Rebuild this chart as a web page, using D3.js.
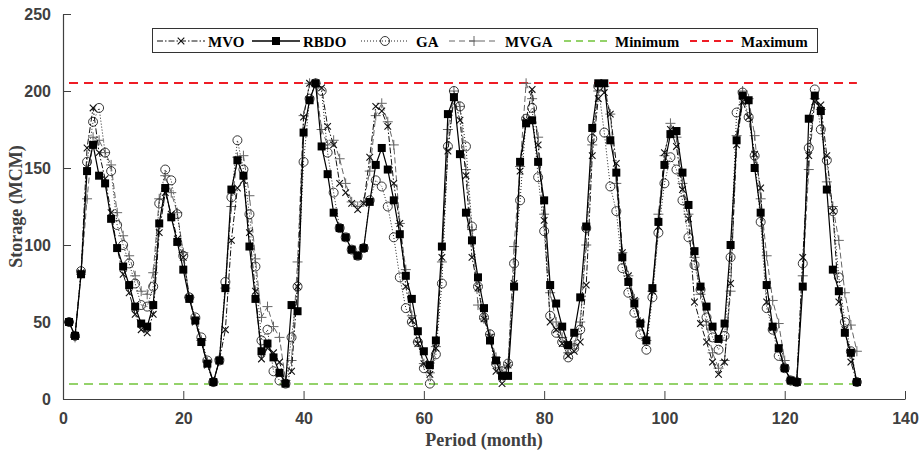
<!DOCTYPE html>
<html>
<head>
<meta charset="utf-8">
<script src="https://cdn.jsdelivr.net/npm/d3@7"></script>
<style>
  body { margin: 0; background: #fff; }
  svg { font-family: "Liberation Serif", "Times New Roman", serif; }
</style>
</head>
<body>
<div id="chart"></div>
<script>
// monthly storage (MCM), months 1..132
var mvo = [50,41,82,163,189,160,143,121,98,81,69,55,45,43,55,108,134,120,104,92,66,50,37,22,11,25,45,103,137,142,
  108,70,26,33,30,24,10,18,73,183,205,205,202,177,165,140,134,127,123,127,157,190,187,177,140,114,73,51,36,23,
  16,33,92,161,196,181,145,92,72,52,40,18,10,22,75,148,181,201,165,116,50,45,36,28,31,37,74,158,195,199,
  185,153,95,80,64,50,38,70,112,160,175,164,136,117,63,49,37,24,16,24,75,165,193,183,159,137,63,46,33,20,
  12,11,92,158,193,191,158,122,63,45,24,11];
var rbdo = [50,41,81,148,165,145,140,117,98,86,74,60,49,47,61,114,137,118,102,84,65,51,37,23,11,25,72,136,155,145,
  99,65,31,36,27,17,10,61,57,173,194,205,164,146,121,111,105,97,93,98,128,152,163,149,129,107,80,65,44,31,
  22,38,99,185,196,159,121,103,79,59,38,25,15,15,73,154,179,181,154,129,74,62,47,35,43,66,112,176,205,205,
  168,147,92,76,62,49,38,72,115,152,172,174,147,126,96,73,60,47,39,49,100,168,197,194,150,121,74,47,33,20,
  12,11,73,182,197,187,136,84,70,43,30,11];
var ga = [50,41,83,154,180,189,160,148,113,100,88,75,61,60,73,127,149,142,120,93,66,53,40,25,11,25,76,131,168,149,
  120,86,38,45,18,12,10,40,73,154,195,205,200,160,134,111,105,97,93,98,129,142,138,125,105,79,59,50,37,20,
  10,29,75,164,200,190,164,112,73,53,42,23,18,23,88,129,182,189,144,109,54,43,37,27,33,45,111,169,203,173,
  138,122,85,69,56,42,32,66,108,140,157,149,129,105,87,71,53,40,32,41,92,186,199,183,158,115,59,45,28,20,
  12,11,88,163,201,175,155,122,79,50,31,11];
var mvga = [50,40,81,130,170,168,160,152,121,106,93,80,70,68,82,130,145,134,121,95,66,52,38,24,11,26,72,125,157,158,
  132,91,53,60,47,40,12,25,89,184,205,205,175,165,168,156,140,128,125,128,148,184,192,180,165,114,84,54,37,23,
  17,34,89,175,200,190,149,110,61,52,42,27,18,22,99,151,205,195,170,120,69,50,40,30,35,50,100,165,200,203,
  185,140,95,80,65,50,38,70,120,158,179,170,140,120,92,68,48,30,20,25,70,171,200,195,171,130,93,64,49,25,
  12,13,80,149,195,188,141,125,103,69,48,31];
var minStorage = 10, maxStorage = 205;
var xTicks = [0,20,40,60,80,100,120,140];
var yTicks = [0,50,100,150,200,250];

var W = 921, H = 452;
var margin = {top:14, left:63, right:16, bottom:53};
var width = W - margin.left - margin.right;
var height = H - margin.top - margin.bottom;
var axisColor = '#404040';

var svg = d3.select('#chart').append('svg')
    .attr('width', W).attr('height', H);
var g = svg.append('g')
    .attr('transform', 'translate(' + margin.left + ',' + margin.top + ')');

var x = d3.scaleLinear().domain([0, 140]).range([0, width]);
var y = d3.scaleLinear().domain([0, 250]).range([height, 0]);

// axes (matlab style, inward ticks, no box)
var xAxis = g.append('g').attr('transform', 'translate(0,' + height + ')')
    .call(d3.axisBottom(x).tickValues(xTicks).tickSize(-8).tickPadding(14).tickSizeOuter(0));
var yAxis = g.append('g')
    .call(d3.axisLeft(y).tickValues(yTicks).tickSize(-8).tickPadding(12).tickSizeOuter(0));
[xAxis, yAxis].forEach(function(a) {
    a.select('.domain').attr('stroke', axisColor).attr('stroke-width', 1.2);
    a.selectAll('.tick line').attr('stroke', axisColor).attr('stroke-width', 1);
    a.selectAll('.tick text').attr('fill', axisColor).style('font-size', '16px').style('font-weight', 'bold');
});

// axis titles
svg.append('text').attr('x', margin.left + x(70)).attr('y', 446)
    .attr('text-anchor', 'middle').attr('fill', axisColor)
    .style('font-size', '18px').style('font-weight', 'bold').text('Period (month)');
svg.append('text').attr('transform', 'translate(22,' + (margin.top + y(125)) + ') rotate(-90)')
    .attr('text-anchor', 'middle').attr('fill', axisColor)
    .style('font-size', '18px').style('font-weight', 'bold').text('Storage (MCM)');

var months = d3.range(1, 133);

// limits (2px so the red keeps its colour)
g.append('line').attr('x1', x(1)).attr('x2', x(132))
    .attr('y1', Math.round(y(minStorage))).attr('y2', Math.round(y(minStorage)))
    .attr('stroke', '#72c43a').attr('stroke-width', 1.6).attr('stroke-dasharray', '9,6');
g.append('line').attr('x1', x(1)).attr('x2', x(132))
    .attr('y1', Math.round(y(maxStorage))).attr('y2', Math.round(y(maxStorage)))
    .attr('stroke', '#ee1c25').attr('stroke-width', 2).attr('stroke-dasharray', '9,6');

var line = d3.line().x(function(d, i) { return x(months[i]); }).y(function(d) { return y(d); });

function crossPath(s) { return 'M' + (-s) + ',' + (-s) + 'L' + s + ',' + s + 'M' + (-s) + ',' + s + 'L' + s + ',' + (-s); }
function plusPath(s) { return 'M' + (-s) + ',0L' + s + ',0M0,' + (-s) + 'L0,' + s; }

var series = [
    {name:'MVGA', data: mvga, color:'#666', dash:'6,3', width:1, marker:'plus'},
    {name:'GA', data: ga, color:'#222', dash:'1,2', width:1, marker:'circle'},
    {name:'MVO', data: mvo, color:'#111', dash:'6,2,1.5,2', width:1, marker:'x'},
    {name:'RBDO', data: rbdo, color:'#000', dash:null, width:1.2, marker:'square'}
];

function drawMarker(sel, type, color) {
    if (type == 'square') {
        sel.append('rect').attr('x', -4).attr('y', -4).attr('width', 8).attr('height', 8).attr('fill', color);
    } else if (type == 'circle') {
        sel.append('circle').attr('r', 4.5).attr('fill', 'none').attr('stroke', color).attr('stroke-width', 0.9);
    } else if (type == 'x') {
        sel.append('path').attr('d', crossPath(3.3)).attr('stroke', color).attr('stroke-width', 1.1);
    } else {
        sel.append('path').attr('d', plusPath(5)).attr('stroke', color).attr('stroke-width', 1);
    }
}

series.forEach(function(s) {
    g.append('path').datum(s.data).attr('d', line)
        .attr('fill', 'none').attr('stroke', s.color).attr('stroke-width', s.width)
        .attr('stroke-dasharray', s.dash);
    var pts = g.append('g').selectAll('g').data(s.data).enter().append('g')
        .attr('transform', function(d, i) { return 'translate(' + x(months[i]) + ',' + y(d) + ')'; });
    pts.each(function() { drawMarker(d3.select(this), s.marker, s.color); });
});

// legend
var leg = svg.append('g');
leg.append('rect').attr('x', 152.5).attr('y', 28.5).attr('width', 665).attr('height', 24)
    .attr('fill', '#fff').attr('stroke', '#333').attr('stroke-width', 1);
var legItems = [
    {label:'MVO', x0:157, x1:205, tx:208, color:'#111', dash:'6,2,1.5,2', marker:'x', w:1},
    {label:'RBDO', x0:252, x1:300, tx:303, color:'#000', dash:null, marker:'square', w:1.5},
    {label:'GA', x0:361, x1:409, tx:416, color:'#222', dash:'1,2', marker:'circle', w:1},
    {label:'MVGA', x0:449, x1:499, tx:505, color:'#666', dash:'6,4', marker:'plus', w:1},
    {label:'Minimum', x0:564, x1:612, tx:615, color:'#72c43a', dash:'7,5', marker:null, w:1.6},
    {label:'Maximum', x0:690, x1:738, tx:741, color:'#ee1c25', dash:'7,5', marker:null, w:2}
];
legItems.forEach(function(it) {
    leg.append('line').attr('x1', it.x0).attr('x2', it.x1).attr('y1', 41).attr('y2', 41)
        .attr('stroke', it.color).attr('stroke-width', it.w).attr('stroke-dasharray', it.dash);
    if (it.marker) {
        var m = leg.append('g').attr('transform', 'translate(' + ((it.x0 + it.x1) / 2) + ',41)');
        drawMarker(m, it.marker, it.color);
    }
    leg.append('text').attr('x', it.tx).attr('y', 46.5).attr('fill', '#000')
        .style('font-size', '15px').style('font-weight', 'bold').text(it.label);
});
</script>
</body>
</html>
